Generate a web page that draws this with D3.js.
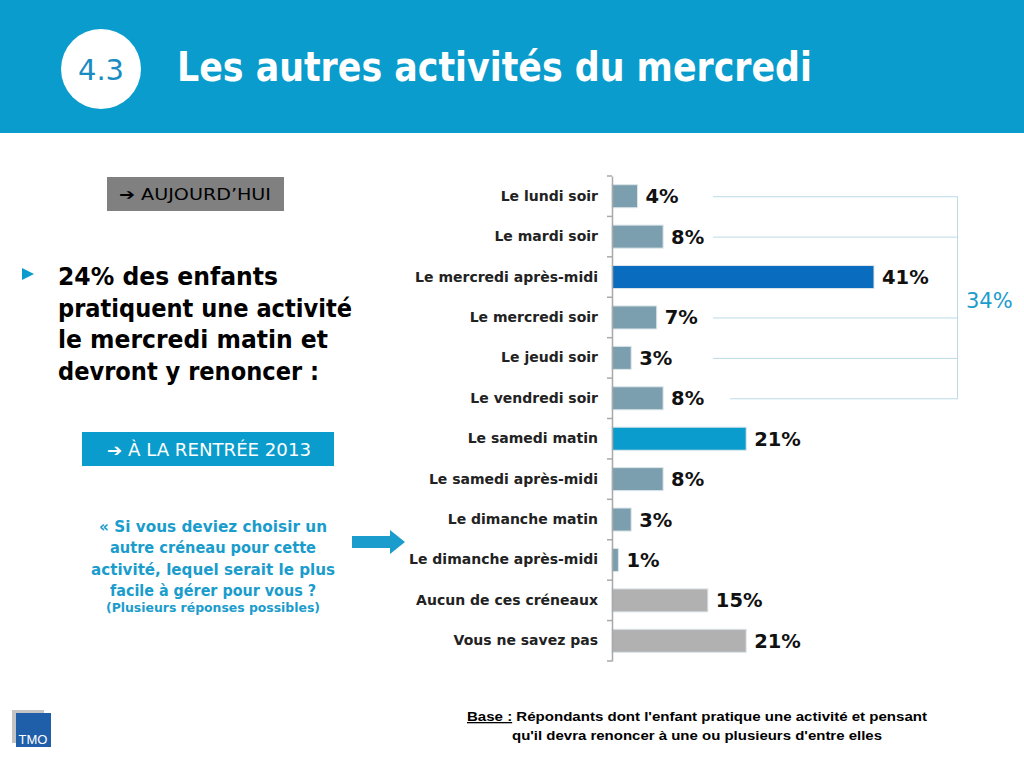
<html>
<head>
<meta charset="utf-8">
<script src="https://d3js.org/d3.v7.min.js"></script>
<style>
  body { margin: 0; background: #fff; }
  svg { display: block; }
</style>
</head>
<body>
<div id="my_dataviz"></div>
<script>
// données
const categories = ["Le lundi soir", "Le mardi soir", "Le mercredi après-midi", "Le mercredi soir",
  "Le jeudi soir", "Le vendredi soir", "Le samedi matin", "Le samedi après-midi",
  "Le dimanche matin", "Le dimanche après-midi", "Aucun de ces créneaux", "Vous ne savez pas"];
const values = [4, 8, 41, 7, 3, 8, 21, 8, 3, 1, 15, 21];
const kinds = ["autre", "autre", "mercredi", "autre", "autre", "autre", "samedi", "autre",
  "autre", "autre", "aucun", "aucun"];
// lignes regroupées par l'accolade (34%)
const bracketRows = ["Le lundi soir", "Le mardi soir", "Le mercredi soir", "Le jeudi soir", "Le vendredi soir"];
const bracketTotal = "34%";

const W = 1024, H = 768;
const blue = "#0a9ccc";

const svg = d3.select("#my_dataviz").append("svg")
  .attr("width", W).attr("height", H);

// petit utilitaire : forcer une largeur de texte
function fit(sel, w) {
  sel.attr("textLength", w).attr("lengthAdjust", "spacingAndGlyphs");
  return sel;
}

// ---- bandeau du titre
svg.append("rect").attr("x", 0).attr("y", 0).attr("width", W).attr("height", 133).attr("fill", blue);
svg.append("circle").attr("cx", 101).attr("cy", 69).attr("r", 40).attr("fill", "#fff");
svg.append("text").attr("x", 101).attr("y", 80).attr("text-anchor", "middle")
  .style("font-family", "DejaVu Sans").style("font-size", "29px").attr("fill", "#1a8cc2").text("4.3");
fit(svg.append("text").attr("x", 177).attr("y", 81)
  .style("font-family", "DejaVu Sans").style("font-weight", "bold").style("font-size", "41px")
  .attr("fill", "#fff").text("Les autres activités du mercredi"), 635);

// ---- partie gauche
svg.append("rect").attr("x", 107).attr("y", 177).attr("width", 177).attr("height", 34).attr("fill", "#808080");
fit(svg.append("text").attr("x", 119).attr("y", 200)
  .style("font-family", "DejaVu Sans").style("font-size", "16px").attr("fill", "#000")
  .text("➔ AUJOURD’HUI"), 152);

svg.append("path").attr("d", "M22,268 L34,274 L22,280 Z").attr("fill", blue);
const bigLines = ["24% des enfants", "pratiquent une activité", "le mercredi matin et", "devront y renoncer :"];
const bigW = [220, 294, 270, 261];
svg.append("g").selectAll("text").data(bigLines).join("text")
  .attr("x", 58).attr("y", (d, i) => 285 + i * 31.5)
  .style("font-family", "DejaVu Sans").style("font-weight", "bold").style("font-size", "24px")
  .attr("fill", "#000").text(d => d)
  .each(function (d, i) { fit(d3.select(this), bigW[i]); });

svg.append("rect").attr("x", 82).attr("y", 432).attr("width", 252).attr("height", 34).attr("fill", blue);
fit(svg.append("text").attr("x", 107).attr("y", 456)
  .style("font-family", "DejaVu Sans").style("font-size", "17px").attr("fill", "#fff")
  .text("➔ À LA RENTRÉE 2013"), 204);

const qLines = ["« Si vous deviez choisir un", "autre créneau pour cette", "activité, lequel serait le plus", "facile à gérer pour vous ?"];
const qW = [228, 206, 244, 206];
svg.append("g").selectAll("text").data(qLines).join("text")
  .attr("x", 213).attr("y", (d, i) => 532 + i * 21.3).attr("text-anchor", "middle")
  .style("font-family", "DejaVu Sans").style("font-weight", "bold").style("font-size", "15.5px")
  .attr("fill", "#1a9ccc").text(d => d)
  .each(function (d, i) { fit(d3.select(this), qW[i]); });
fit(svg.append("text").attr("x", 213).attr("y", 612).attr("text-anchor", "middle")
  .style("font-family", "DejaVu Sans").style("font-weight", "bold").style("font-size", "12.5px")
  .attr("fill", "#1a9ccc").text("(Plusieurs réponses possibles)"), 214);

svg.append("path").attr("d", "M352,536 L390,536 L390,530 L405,542 L390,554 L390,548 L352,548 Z").attr("fill", "#1a9ccc");

// ---- graphique
const x = d3.scaleLinear().domain([0, 41]).range([612, 874]);
const y = d3.scaleBand().domain(categories).range([176, 661]).paddingInner(0.43).paddingOuter(0.215);
const color = d3.scaleOrdinal().domain(["autre", "mercredi", "samedi", "aucun"])
  .range(["#7b9fae", "#0a6cbf", "#0a9ccc", "#b1b1b1"]);

const step = y.step();
const chart = svg.append("g");

// lignes de l'accolade
const br = chart.append("g").attr("stroke", "#bcdbe8").attr("stroke-width", 1);
br.selectAll("line").data(bracketRows).join("line")
  .attr("x1", d => d === "Le vendredi soir" ? 730 : 713).attr("x2", 957)
  .attr("y1", d => y(d) + y.bandwidth() / 2 + 0.5).attr("y2", d => y(d) + y.bandwidth() / 2 + 0.5);
br.append("line").attr("x1", 957.5).attr("x2", 957.5)
  .attr("y1", y(bracketRows[0]) + y.bandwidth() / 2)
  .attr("y2", y(bracketRows[bracketRows.length - 1]) + y.bandwidth() / 2 + 1);
chart.append("text").attr("x", 966).attr("y", 308)
  .style("font-family", "DejaVu Sans").style("font-size", "21px").attr("fill", "#1a9ccc").text(bracketTotal);

// barres
chart.selectAll("rect.bar").data(categories).join("rect").attr("class", "bar")
  .attr("x", x(0)).attr("y", d => y(d))
  .attr("width", (d, i) => x(values[i]) - x(0))
  .attr("height", y.bandwidth())
  .attr("fill", (d, i) => color(kinds[i]))
  .attr("stroke", "#dde6ea").attr("stroke-width", 1);

// axe
const ax = chart.append("g").attr("transform", `translate(${x(0)},0)`)
  .call(d3.axisLeft(y).tickSize(0).tickPadding(14));
ax.select(".domain").attr("stroke", "#a9a9a9").attr("stroke-width", 1.5);
ax.selectAll("text").style("font-family", "DejaVu Sans").style("font-weight", "bold")
  .style("font-size", "14px").attr("fill", "#222");
// petits traits entre catégories
chart.append("g").selectAll("line").data(d3.range(categories.length + 1)).join("line")
  .attr("x1", x(0) - 5).attr("x2", x(0))
  .attr("y1", i => 176 + i * step).attr("y2", i => 176 + i * step)
  .attr("stroke", "#a9a9a9").attr("stroke-width", 1.5);

// étiquettes de valeur
chart.selectAll("text.val").data(categories).join("text").attr("class", "val")
  .attr("x", (d, i) => x(values[i]) + 8)
  .attr("y", d => y(d) + y.bandwidth() / 2 + 7)
  .style("font-family", "DejaVu Sans").style("font-weight", "bold").style("font-size", "19.5px")
  .attr("fill", "#111").text((d, i) => values[i] + "%");

// ---- pied de page
svg.append("rect").attr("x", 12).attr("y", 710).attr("width", 32).attr("height", 33).attr("fill", "#c4c4c4");
svg.append("rect").attr("x", 16).attr("y", 713).attr("width", 35).attr("height", 34).attr("fill", "#1f5ea8");
svg.append("text").attr("x", 33).attr("y", 744).attr("text-anchor", "middle")
  .style("font-family", "Liberation Sans").style("font-size", "13px").attr("fill", "#fff").text("TMO");

const foot = svg.append("g").style("font-family", "Liberation Sans Narrow, Liberation Sans")
  .style("font-weight", "bold").style("font-size", "13px").attr("fill", "#000");
const f1 = foot.append("text").attr("x", 467).attr("y", 721);
f1.append("tspan").attr("text-decoration", "underline").text("Base :");
f1.append("tspan").text(" Répondants dont l'enfant pratique une activité et pensant");
fit(f1, 460);
fit(foot.append("text").attr("x", 512).attr("y", 740)
  .text("qu'il devra renoncer à une ou plusieurs d'entre elles"), 370);
</script>
</body>
</html>
